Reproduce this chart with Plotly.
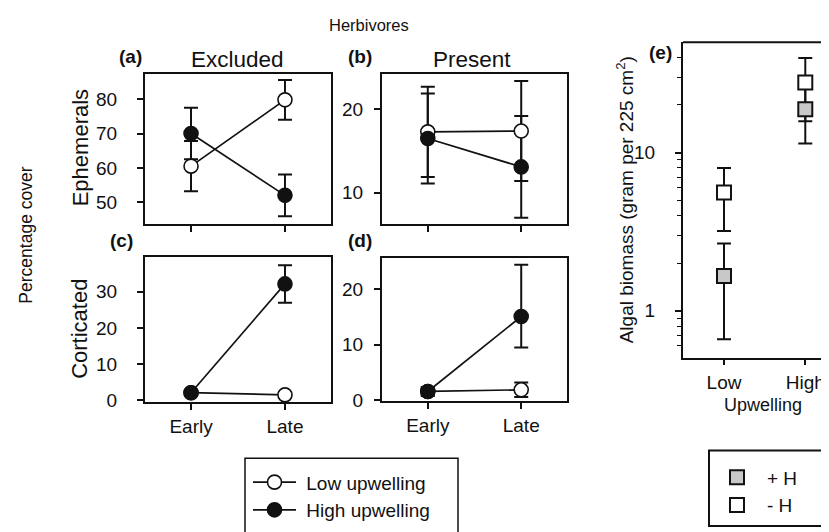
import plotly.graph_objects as go

# ---------------- data ----------------
periods = ["Early", "Late"]
period_pos = [0, 1]

# (a) Ephemerals, herbivores excluded
a_low = [60.5, 79.8]
a_low_err = [7.3, 5.8]
a_high = [70.0, 52.0]
a_high_err = [7.5, 6.1]

# (b) Ephemerals, herbivores present
b_low = [17.3, 17.4]
b_low_err = [5.4, 6.0]
b_high = [16.5, 13.1]
b_high_err = [5.4, 6.1]

# (c) Corticated, herbivores excluded
c_low = [2.0, 1.4]
c_low_err = [0.6, 0.7]
c_high = [2.0, 32.2]
c_high_err = [0.8, 5.2]

# (d) Corticated, herbivores present
d_low = [1.6, 1.9]
d_low_err = [0.6, 1.3]
d_high = [1.6, 15.1]
d_high_err_plus = [0.8, 9.3]
d_high_err_minus = [0.8, 5.6]

# (e) Algal biomass
upwelling = ["Low", "High"]
upwelling_pos = [0, 1]
plusH = [1.66, 18.8]
plusH_err = [1.0, 7.4]
minusH = [5.6, 27.7]
minusH_err = [2.4, 11.9]

# ---------------- style ----------------
W, H = 829, 532
def px(x): return x / W
def py(y): return 1 - y / H

FONT = "Liberation Sans, Arial, Helvetica, sans-serif"
INK = "#111111"
GRAY = "#c8c8c8"
TICKF = 19

fig = go.Figure()

def err(arr, minus=None, width=7):
    d = dict(type="data", array=arr, color=INK, thickness=2, width=width, visible=True)
    if minus is not None:
        d.update(symmetric=False, arrayminus=minus)
    return d

panels = [
    ("x", "y", a_low, a_low_err, None, a_high, a_high_err, None, True),
    ("x2", "y2", b_low, b_low_err, None, b_high, b_high_err, None, False),
    ("x3", "y3", c_low, c_low_err, None, c_high, c_high_err, None, False),
    ("x4", "y4", d_low, d_low_err, None, d_high, d_high_err_plus, d_high_err_minus, False),
]

# error bars first (under all markers)
for xa, ya, lo, loe, loem, hi, hie, hiem, _ in panels:
    for vals, e, em in ((lo, loe, loem), (hi, hie, hiem)):
        fig.add_trace(go.Scatter(
            x=period_pos, y=vals, xaxis=xa, yaxis=ya, mode="markers",
            marker=dict(size=2, opacity=0), error_y=err(e, em, 7),
            showlegend=False, hoverinfo="skip"))

for xa, ya, lo, loe, loem, hi, hie, hiem, leg in panels:
    fig.add_trace(go.Scatter(
        x=period_pos, y=lo, xaxis=xa, yaxis=ya, mode="lines+markers",
        name=" Low upwelling", legend="legend",
        line=dict(color=INK, width=1.7),
        marker=dict(size=14, color="white", line=dict(color=INK, width=1.6)),
        showlegend=leg, hoverinfo="skip"))
    fig.add_trace(go.Scatter(
        x=period_pos, y=hi, xaxis=xa, yaxis=ya, mode="lines+markers",
        name=" High upwelling", legend="legend",
        line=dict(color=INK, width=1.7),
        marker=dict(size=14, color=INK, line=dict(color=INK, width=1.6)),
        showlegend=leg, hoverinfo="skip"))

# panel (e)
for vals, e in ((plusH, plusH_err), (minusH, minusH_err)):
    fig.add_trace(go.Scatter(
        x=upwelling_pos, y=vals, xaxis="x5", yaxis="y5", mode="markers",
        marker=dict(size=2, opacity=0), error_y=err(e, None, 7),
        showlegend=False, hoverinfo="skip"))
fig.add_trace(go.Scatter(
    x=upwelling_pos, y=plusH, xaxis="x5", yaxis="y5", mode="markers",
    name="+ H", legend="legend2", legendrank=1,
    marker=dict(symbol="square", size=14, color=GRAY, line=dict(color=INK, width=2)),
    hoverinfo="skip"))
fig.add_trace(go.Scatter(
    x=upwelling_pos, y=minusH, xaxis="x5", yaxis="y5", mode="markers",
    name="- H", legend="legend2", legendrank=2,
    marker=dict(symbol="square", size=14, color="white", line=dict(color=INK, width=2)),
    hoverinfo="skip"))

def xax(l, r, labels, anchor):
    return dict(domain=[px(l), px(r)], range=[-0.49, 1.49], tickvals=period_pos, anchor=anchor,
                ticktext=labels, ticks="outside", ticklen=6, tickwidth=1.6, tickcolor=INK,
                showline=True, linecolor=INK, linewidth=2, mirror=True, showgrid=False,
                zeroline=False, tickfont=dict(size=TICKF, color=INK, family=FONT),
                ticklabelstandoff=0, fixedrange=True)

def yax(top, bottom, rng, tv, anchor, standoff):
    return dict(domain=[py(bottom), py(top)], range=rng, tickvals=tv, anchor=anchor,
                ticks="outside", ticklen=6, tickwidth=1.6, tickcolor=INK,
                showline=True, linecolor=INK, linewidth=2, mirror=True, showgrid=False,
                zeroline=False, tickfont=dict(size=TICKF, color=INK, family=FONT),
                ticklabelstandoff=standoff, fixedrange=True)

blank = ["", ""]
layout = dict(
    width=W, height=H, margin=dict(l=0, r=0, t=0, b=0),
    paper_bgcolor="white", plot_bgcolor="white",
    font=dict(family=FONT, color=INK, size=TICKF),
    xaxis=xax(137, 323, blank, "y"),
    yaxis=yax(67, 220, [43.7, 87.4], [50, 60, 70, 80], "x", 16),
    xaxis2=xax(374, 559, blank, "y2"),
    yaxis2=yax(67, 220, [6.27, 24.27], [10, 20], "x2", 7),
    xaxis3=xax(137, 323, periods, "y3"),
    yaxis3=yax(254, 402, [-0.7, 39.6], [0, 10, 20, 30], "x3", 16),
    xaxis4=xax(374, 559, periods, "y4"),
    yaxis4=yax(255, 401, [-0.2, 25.6], [0, 10, 20], "x4", 7),
    xaxis5=dict(domain=[px(675), 1], range=[-0.504, 1.39], tickvals=upwelling_pos, anchor="y5",
                ticktext=upwelling, ticks="outside", ticklen=5, tickwidth=1.6, tickcolor=INK,
                showline=True, linecolor=INK, linewidth=2, showgrid=False, zeroline=False,
                tickfont=dict(size=TICKF, color=INK, family=FONT), ticklabelstandoff=1,
                fixedrange=True),
    yaxis5=dict(domain=[py(357), py(35)], type="log", range=[-0.30, 1.697], anchor="x5",
                tickvals=[1, 10], ticktext=["1", "10"], ticks="outside", ticklen=6,
                tickwidth=1.6, tickcolor=INK, showline=True, linecolor=INK, linewidth=2,
                showgrid=False, zeroline=False,
                tickfont=dict(size=TICKF, color=INK, family=FONT), ticklabelstandoff=16,
                minor=dict(tickvals=[0.5, 0.6, 0.7, 0.8, 0.9, 2, 3, 4, 5, 6, 7, 8, 9, 20, 30, 40, 50],
                           ticks="outside", ticklen=4, tickwidth=1.4, tickcolor=INK, showgrid=False),
                fixedrange=True),
    legend=dict(x=px(240), y=py(464), xanchor="left", yanchor="top",
                bgcolor="rgba(0,0,0,0)", borderwidth=0, itemwidth=43,
                font=dict(size=19, color=INK, family=FONT), tracegroupgap=0),
    legend2=dict(x=px(699), y=py(459), xanchor="left", yanchor="top",
                 bgcolor="rgba(0,0,0,0)", borderwidth=0, itemwidth=50,
                 font=dict(size=19, color=INK, family=FONT), tracegroupgap=0),
    showlegend=True,
)
fig.update_layout(**layout)

# top border for panel (e)
fig.add_shape(type="line", xref="paper", yref="paper", x0=px(675), x1=1, y0=py(35), y1=py(35),
              line=dict(color=INK, width=2))
# legend boxes
fig.add_shape(type="rect", xref="paper", yref="paper", x0=px(237), x1=px(450), y0=py(545), y1=py(459),
              line=dict(color=INK, width=1.5), fillcolor="rgba(0,0,0,0)", layer="below")
fig.add_shape(type="rect", xref="paper", yref="paper", x0=px(701), x1=px(815), y0=py(528), y1=py(451),
              line=dict(color=INK, width=2), fillcolor="rgba(0,0,0,0)", layer="below")

def ann(text, x, y, size, bold=False, angle=0):
    t = f"<b>{text}</b>" if bold else text
    fig.add_annotation(text=t, x=px(x), y=py(y), xref="paper", yref="paper",
                       showarrow=False, xanchor="center", yanchor="middle", textangle=angle,
                       font=dict(size=size, color=INK, family=FONT))

ann("Herbivores", 361, 17, 16.5)
ann("Excluded", 229, 52, 22.5)
ann("Present", 464, 52, 22.5)
ann("(a)", 122, 49, 19, bold=True)
ann("(b)", 352, 49, 19, bold=True)
ann("(c)", 113, 237, 19, bold=True)
ann("(d)", 352, 237, 19, bold=True)
ann("(e)", 652, 45, 19, bold=True)
ann("Percentage cover", 18, 232, 17.5, angle=-90)
ann("Ephemerals", 72, 143, 22, angle=-90)
ann("Corticated", 72, 327, 22, angle=-90)
ann("Algal biomass (gram per 225 cm<sup>2</sup>)", 617, 196, 19, angle=-90)
ann("Upwelling", 755, 405, 18)

fig.write_html("out.html")
